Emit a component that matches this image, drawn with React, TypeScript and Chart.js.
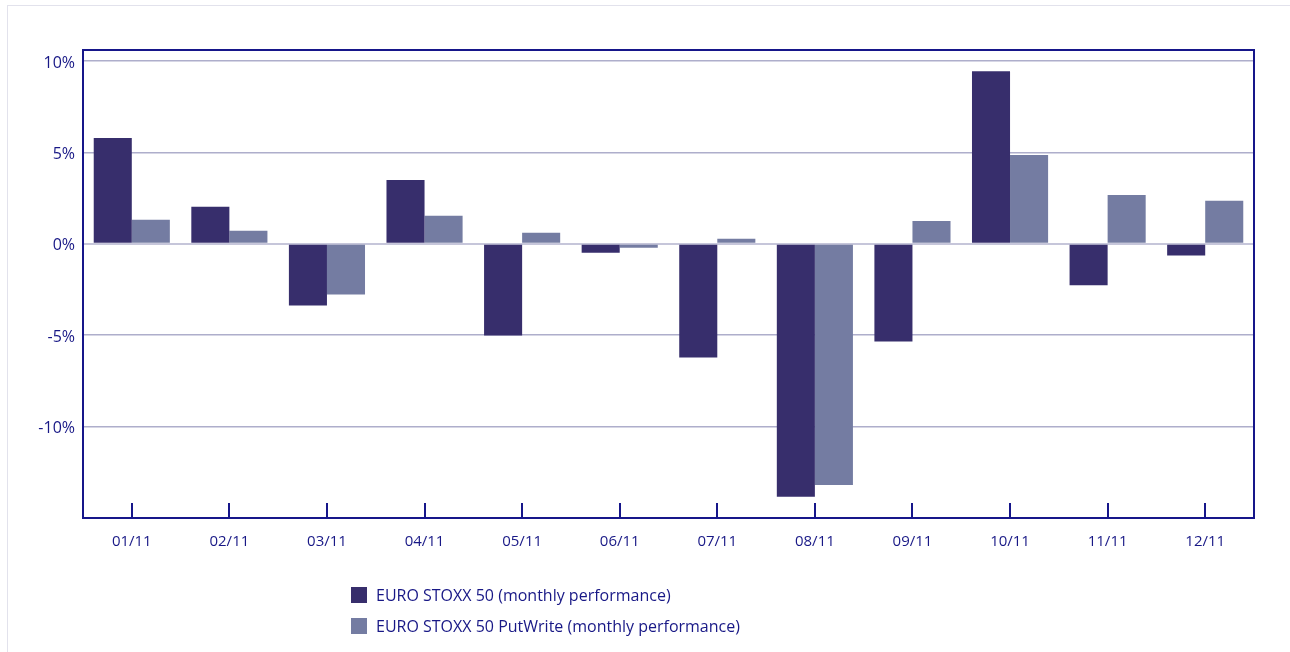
import React, { useEffect, useRef } from 'react';
import { Chart, registerables } from 'chart.js';

Chart.register(...registerables);

const months = ['01/11', '02/11', '03/11', '04/11', '05/11', '06/11', '07/11', '08/11', '09/11', '10/11', '11/11', '12/11'];
const euroStoxx50 = [5.78, 2.02, -3.38, 3.49, -5.02, -0.49, -6.22, -13.84, -5.35, 9.44, -2.27, -0.64];
const putWrite = [1.31, 0.71, -2.78, 1.53, 0.6, -0.22, 0.27, -13.2, 1.25, 4.86, 2.67, 2.35];
const yTickValues = [-10, -5, 0, 5, 10];
const seriesLabels = ['EURO STOXX 50 (monthly performance)', 'EURO STOXX 50 PutWrite (monthly performance)'];

const NAVY = '#16168a';
const TEXT = '#181886';
const DARK = '#372e6c';
const LIGHT = '#747ca2';
const FONT = "'Open Sans', 'DejaVu Sans', sans-serif";

export default function App() {
  const ref = useRef<HTMLCanvasElement>(null);

  useEffect(() => {
    document.body.style.margin = '0';
    const framePlugin = {
      id: 'frame',
      afterDatasetsDraw(chart: any) {
        const { ctx, chartArea } = chart;
        const x = chart.scales.x;
        ctx.save();
        ctx.strokeStyle = NAVY;
        ctx.lineWidth = 2;
        ctx.beginPath();
        for (let i = 0; i < x.ticks.length; i++) {
          const px = Math.round(x.getPixelForTick(i));
          ctx.moveTo(px, chartArea.bottom);
          ctx.lineTo(px, chartArea.bottom - 15);
        }
        ctx.stroke();
        ctx.strokeRect(chartArea.left, chartArea.top, chartArea.right - chartArea.left, chartArea.bottom - chartArea.top);
        ctx.restore();
      },
      afterDraw(chart: any) {
        const { ctx } = chart;
        ctx.save();
        ctx.font = `16px ${FONT}`;
        ctx.textBaseline = 'middle';
        ctx.textAlign = 'left';
        chart.data.datasets.forEach((ds: any, i: number) => {
          const y = 587 + i * 31;
          ctx.fillStyle = ds.backgroundColor;
          ctx.fillRect(351, y, 16, 16);
          ctx.fillStyle = TEXT;
          ctx.fillText(seriesLabels[i], 376, y + 9);
        });
        ctx.restore();
      },
    };

    const chart = new Chart(ref.current as HTMLCanvasElement, {
      type: 'bar',
      data: {
        labels: months,
        datasets: [
          { label: seriesLabels[0], data: euroStoxx50, backgroundColor: DARK, categoryPercentage: 0.78, barPercentage: 1 },
          { label: seriesLabels[1], data: putWrite, backgroundColor: LIGHT, categoryPercentage: 0.78, barPercentage: 1 },
        ],
      },
      options: {
        responsive: false,
        animation: false,
        layout: { padding: { left: 0, top: 50, right: 36, bottom: 0 } },
        plugins: { legend: { display: false }, tooltip: { enabled: false } },
        scales: {
          x: {
            grid: { display: false, drawTicks: false },
            border: { display: false },
            ticks: { color: TEXT, font: { family: FONT, size: 15 }, padding: 15, maxRotation: 0 },
            afterFit(scale: any) { scale.height = 134; },
          },
          y: {
            min: -15,
            max: 10.6,
            afterBuildTicks(scale: any) { scale.ticks = yTickValues.map((v) => ({ value: v })); },
            afterFit(scale: any) { scale.width = 83; },
            grid: {
              drawTicks: false,
              color: (c: any) => (c.tick && c.tick.value === 0 ? '#c6c6da' : '#aeaecb'),
              lineWidth: (c: any) => (c.tick && c.tick.value === 0 ? 2 : 1.5),
            },
            border: { display: false },
            ticks: {
              color: TEXT,
              font: { family: FONT, size: 16 },
              padding: 8,
              labelOffset: 2,
              callback: (v: any) => `${v}%`,
            },
          },
        },
      },
      plugins: [framePlugin],
    });
    return () => chart.destroy();
  }, []);

  return (
    <div style={{ position: 'relative', width: 1290, height: 652, overflow: 'hidden', background: '#fff' }}>
      <div style={{ position: 'absolute', left: 7, top: 5, right: -10, bottom: -10, borderLeft: '1px solid #e2e2ec', borderTop: '1px solid #e2e2ec' }} />
      <canvas ref={ref} width={1290} height={652} style={{ position: 'absolute', left: 0, top: 0, width: 1290, height: 652 }} />
    </div>
  );
}
